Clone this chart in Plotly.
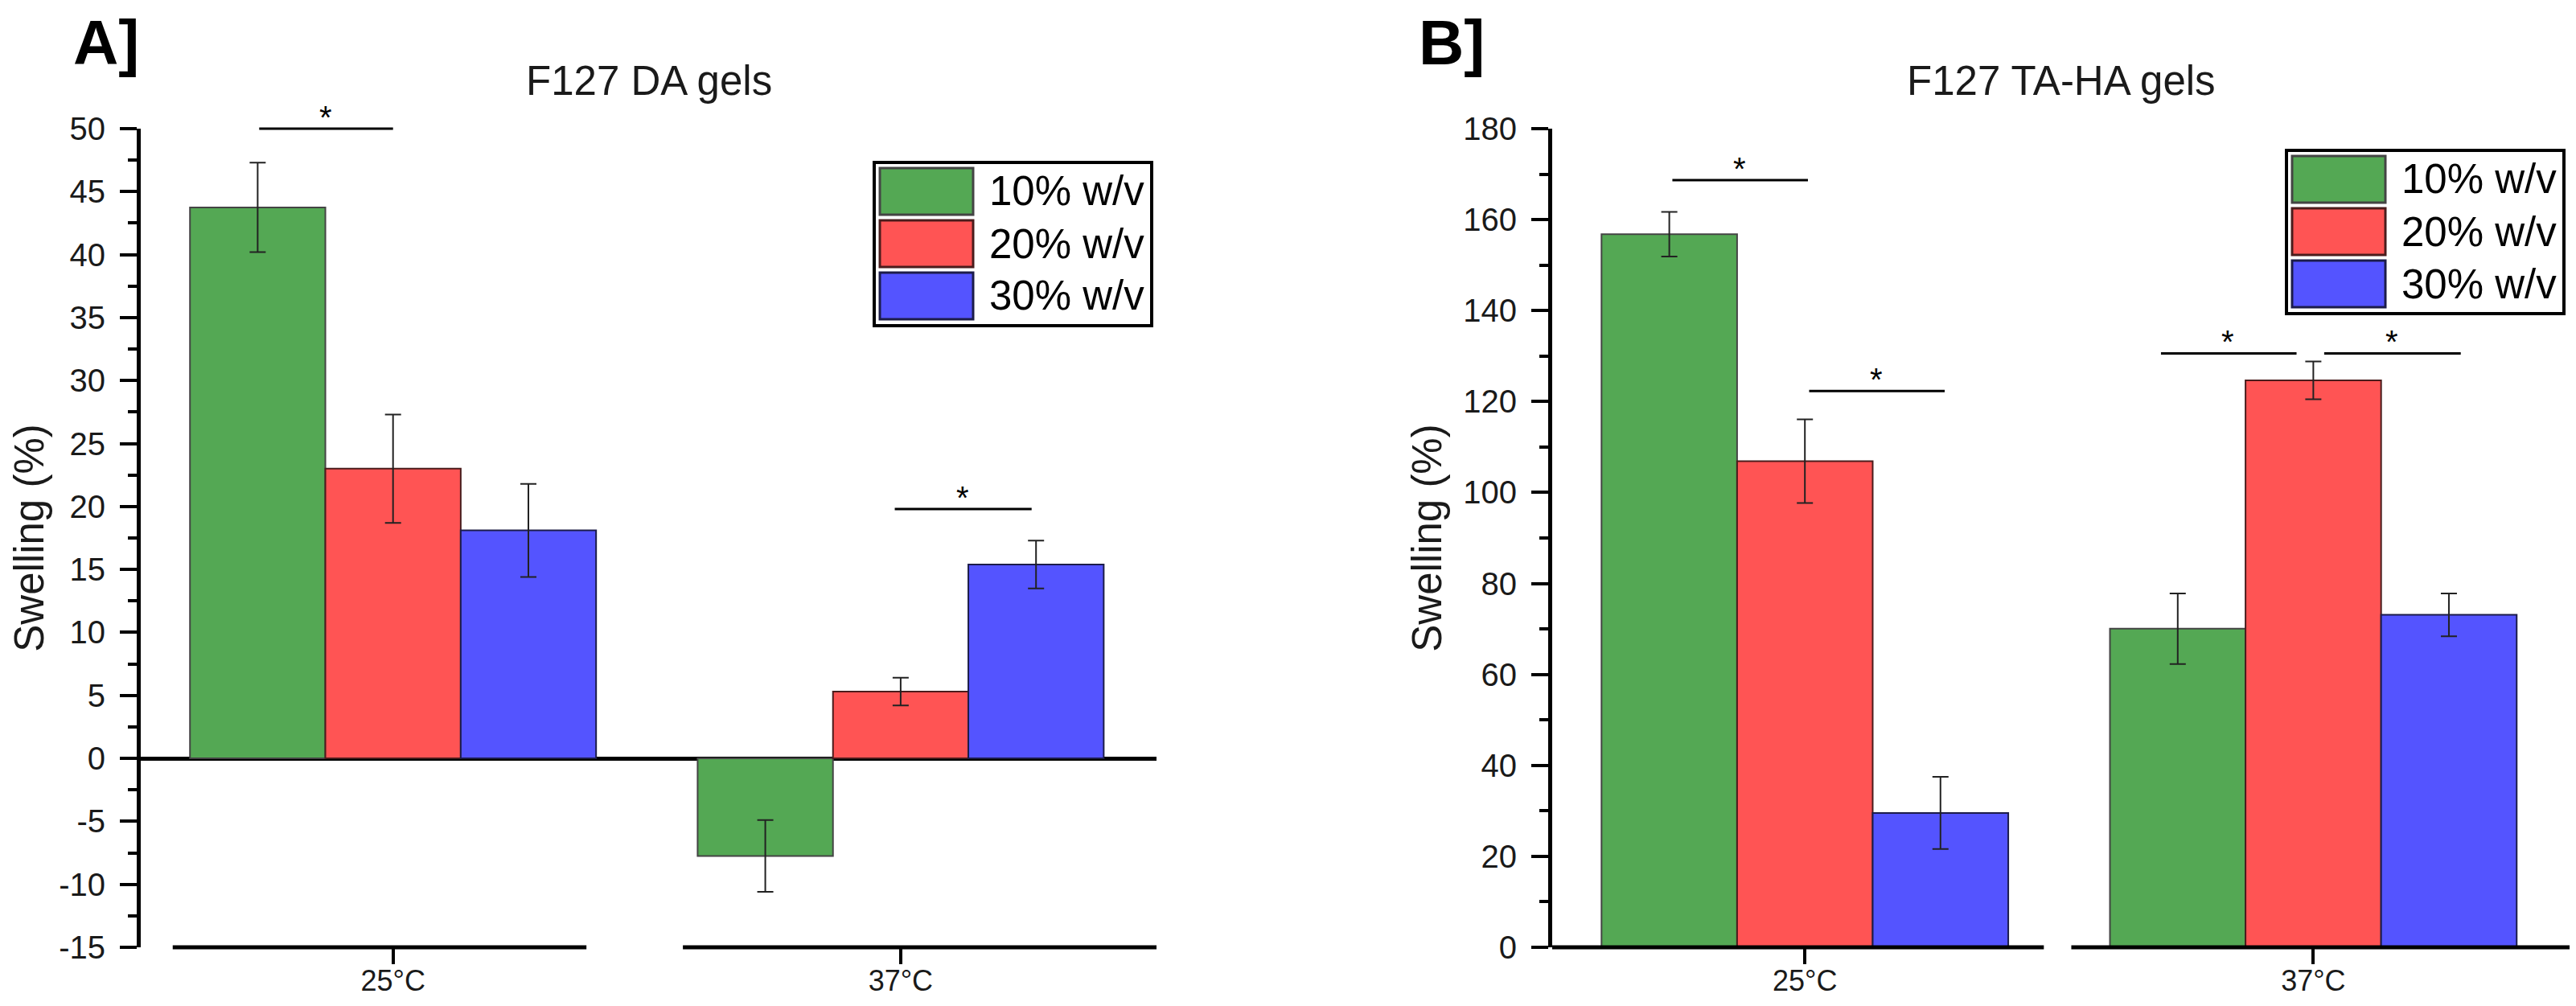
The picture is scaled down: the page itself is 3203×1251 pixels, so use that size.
import plotly.graph_objects as go

W, H = 3203, 1251
OFF = 8  # page body margin
FW, FH = W - 2 * OFF, H - 2 * OFF
FONT = "Liberation Sans, Arial, sans-serif"

temps = ["25°C", "37°C"]
series = ["10% w/v", "20% w/v", "30% w/v"]
fill = ["#54A854", "#FF5454", "#5454FF"]
edge = ["#444444", "#4a1c1c", "#1c1c4a"]

# A] F127 DA gels, one list per concentration (25°C, 37°C)
da_mean = [[43.75, -7.75], [23.0, 5.3], [18.1, 15.4]]
da_err = [[3.55, 2.85], [4.3, 1.1], [3.7, 1.9]]
da_ticks = [-15, -10, -5, 0, 5, 10, 15, 20, 25, 30, 35, 40, 45, 50]

# B] F127 TA-HA gels
ha_mean = [[156.8, 70.05], [106.9, 124.65], [29.55, 73.1]]
ha_err = [[4.9, 7.75], [9.2, 4.15], [7.95, 4.7]]
ha_ticks = [0, 20, 40, 60, 80, 100, 120, 140, 160, 180]

# significance bars: (from, to, level) in category units / data units
da_sig = [(-0.266, 0.0, 50.0), (0.986, 1.258, 19.8)]
ha_sig = [(-0.263, 0.006, 168.7), (0.006, 0.275, 122.3),
          (0.698, 0.967, 130.6), (1.019, 1.290, 130.6)]

# broken bottom axis segments (category units)
da_base = [(-0.434, 0.381), (0.571, 1.51)]
ha_base = [(-0.51, 0.47), (0.524, 1.51)]


def fx(p):
    return (p - OFF) / FW


def fy(p):
    return 1 - (p - OFF) / FH


fig = go.Figure()

for xa, ya, means, errs in [("x", "y", da_mean, da_err), ("x2", "y2", ha_mean, ha_err)]:
    for i, name in enumerate(series):
        fig.add_trace(go.Bar(
            x=temps, y=means[i], name=name, xaxis=xa, yaxis=ya,
            marker=dict(color=fill[i], line=dict(color=edge[i], width=2)),
            error_y=dict(type="data", array=errs[i], color="#222222",
                         thickness=2, width=10),
            showlegend=False,
        ))

xr = [-0.497, 1.504]
common_x = dict(range=xr, showline=False, showgrid=False, zeroline=False,
                automargin=False,
                ticks="outside", ticklen=20, tickwidth=4, tickcolor="black",
                tickfont=dict(size=36, color="#1a1a1a"), ticklabelstandoff=-10)
common_y = dict(showline=True, linewidth=5, linecolor="black", showgrid=False,
                automargin=False,
                ticks="outside", ticklen=21, tickwidth=4, tickcolor="black",
                tickfont=dict(size=40, color="#1a1a1a"), ticklabelstandoff=10,
                title=dict(text="Swelling (%)", font=dict(size=51, color="#1a1a1a"),
                           standoff=12))

ydom = [fy(1178), fy(160)]

fig.update_layout(
    width=FW, height=FH,
    margin=dict(l=0, r=0, t=0, b=0, pad=0),
    paper_bgcolor="white", plot_bgcolor="white",
    font=dict(family=FONT, color="black"),
    barmode="group", bargap=0.2, bargroupgap=0,
    showlegend=False,
    xaxis=dict(domain=[fx(175), fx(1438)], anchor="y", **common_x),
    xaxis2=dict(domain=[fx(1930), min(1.0, fx(3195))], anchor="y2", **common_x),
    yaxis=dict(domain=ydom, anchor="x", range=[-15, 50],
               tickmode="array", tickvals=da_ticks,
               ticktext=[str(v) for v in da_ticks],
               zeroline=True, zerolinewidth=5, zerolinecolor="black",
               minor=dict(dtick=2.5, ticks="outside", ticklen=11, tickwidth=4,
                          tickcolor="black", showgrid=False),
               **common_y),
    yaxis2=dict(domain=ydom, anchor="x2", range=[0, 180],
                tickmode="array", tickvals=ha_ticks,
                ticktext=[str(v) for v in ha_ticks],
                zeroline=False,
                minor=dict(dtick=10, ticks="outside", ticklen=11, tickwidth=4,
                           tickcolor="black", showgrid=False),
                **common_y),
)

# bottom axis segments
for xa, segs in [("x", da_base), ("x2", ha_base)]:
    for a, b in segs:
        fig.add_shape(type="line", xref=xa, yref=xa.replace("x", "y") + " domain",
                      x0=a, x1=b, y0=0, y1=0, line=dict(color="black", width=5))

# significance bars and stars
for xa, ya, sigs in [("x", "y", da_sig), ("x2", "y2", ha_sig)]:
    for a, b, lvl in sigs:
        fig.add_annotation(x=b, y=lvl, ax=a, ay=lvl, xref=xa, yref=ya,
                           axref=xa, ayref=ya, text="", showarrow=True,
                           arrowhead=0, arrowwidth=3, arrowcolor="black",
                           standoff=0, startstandoff=0)
        fig.add_annotation(x=(a + b) / 2, y=lvl, xref=xa, yref=ya, text="*",
                           showarrow=False, yanchor="middle", yshift=14,
                           font=dict(size=40, color="black"))

# titles and panel letters
for xa, title in [("x", "F127 DA gels"), ("x2", "F127 TA-HA gels")]:
    fig.add_annotation(x=0.5, y=fy(101), xref=xa + " domain", yref="paper",
                       text=title, showarrow=False, yanchor="middle",
                       font=dict(size=51, color="#1a1a1a"))

for left, label in [(89, "A]"), (1762, "B]")]:
    fig.add_annotation(x=fx(left), y=fy(53), xref="paper", yref="paper",
                       text="<b>" + label + "</b>", showarrow=False,
                       xanchor="left", yanchor="middle",
                       font=dict(size=78, color="black"))


def add_legend(left, top):
    fig.add_shape(type="rect", xref="paper", yref="paper",
                  x0=fx(left), x1=fx(left + 345),
                  y0=fy(top), y1=fy(top + 203),
                  line=dict(color="black", width=4), fillcolor="white")
    for i, name in enumerate(series):
        y0 = top + 7 + i * 65
        fig.add_shape(type="rect", xref="paper", yref="paper",
                      x0=fx(left + 7), x1=fx(left + 123),
                      y0=fy(y0), y1=fy(y0 + 58),
                      fillcolor=fill[i], line=dict(color=edge[i], width=3))
        fig.add_annotation(x=fx(left + 141), y=fy(y0 + 29),
                           xref="paper", yref="paper", text=name,
                           showarrow=False, xanchor="left", yanchor="middle",
                           font=dict(size=51, color="black"))


add_legend(1087, 202)
add_legend(2843, 187)

fig.write_html("out.html")
